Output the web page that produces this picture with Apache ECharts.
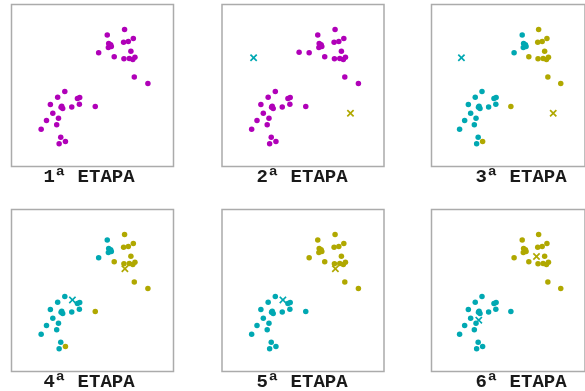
<!DOCTYPE html>
<html><head><meta charset="utf-8">
<script src="https://cdn.jsdelivr.net/npm/echarts@6/dist/echarts.min.js"></script>
<style>html,body{margin:0;padding:0;background:#fff}#c{width:585px;height:391px}</style>
</head><body><div id="c"></div>
<script>
// Data points (same for every stage), in a 0..100 box coordinate system
const pointsX = [69.8,59.1,69.2,72.1,75.2,60.0,61.2,59.8,61.6,53.8,73.7,63.4,69.4,72.7,74.9,76.2,75.8,84.2,
                 32.9,28.5,40.7,42.1,24.0,31.0,31.6,30.6,41.9,37.2,51.7,25.5,29.0,21.6,27.9,18.3,30.4,29.4,33.3];
const pointsY = [84.6,81.1,76.7,77.2,79.0,75.9,75.1,73.5,74.1,70.2,71.2,67.7,66.5,66.7,66.0,67.5,55.3,51.2,
                 46.3,42.8,42.0,42.6,38.3,37.2,35.8,36.6,38.5,36.8,37.0,32.9,29.8,28.4,25.7,23.0,18.1,14.0,15.4];
// extra point visible only in stage 2
const extraX = [47.6];
const extraY = [70.6];
// cluster assignments: 0 = cyan, 1 = olive
const assignA = [1,0,1,1,1,0,0,0,0,0,1,1,1,1,1,1,1,1,
                 0,0,0,0,0,0,0,0,0,0,1,0,0,0,0,0,0,0,1];
const assignB = [1,1,1,1,1,1,1,1,1,1,1,1,1,1,1,1,1,1,
                 0,0,0,0,0,0,0,0,0,0,0,0,0,0,0,0,0,0,0];
// centroids per stage (null = none)
const cyanCx = [null, 19.5, 19.5, 37.6, 37.6, 30.8];
const cyanCy = [null, 67.1, 67.1, 44.2, 44.2, 31.7];
const oliveCx = [null, 79.3, 79.3, 70.0, 70.0, 68.4];
const oliveCy = [null, 32.9, 32.9, 63.4, 63.4, 71.0];
const stageLabels = ['1ª ETAPA','2ª ETAPA','3ª ETAPA','4ª ETAPA','5ª ETAPA','6ª ETAPA'];
const stageAssign = [null, null, assignA, assignA, assignB, assignB];

const MAG = '#b000b8', CYA = '#00a8b2', OLI = '#b0a800';
const XPATH = 'path://M0,1.6L1.6,0L5,3.4L8.4,0L10,1.6L6.6,5L10,8.4L8.4,10L5,6.6L1.6,10L0,8.4L3.4,5Z';

const gridLefts = [11.5, 222, 431.5];
const gridTops = [4.5, 209.5];
const labelXs = [89, 302, 521];
const labelYs = [177.5, 382];

const grids = [], xAxes = [], yAxes = [], series = [], graphics = [];
for (let i = 0; i < 6; i++) {
  const col = i % 3, row = Math.floor(i / 3);
  grids.push({left: gridLefts[col], top: gridTops[row], width: 162, height: 162,
    show: true, borderColor: '#ababab', borderWidth: 1.5, backgroundColor: '#fff'});
  xAxes.push({type: 'value', gridIndex: i, min: 0, max: 100, show: false});
  yAxes.push({type: 'value', gridIndex: i, min: 0, max: 100, show: false});
  const asg = stageAssign[i];
  const mag = [], cya = [], oli = [];
  for (let k = 0; k < pointsX.length; k++) {
    const p = [pointsX[k], pointsY[k]];
    if (!asg) mag.push(p); else if (asg[k] === 0) cya.push(p); else oli.push(p);
  }
  if (i === 1) for (let k = 0; k < extraX.length; k++) mag.push([extraX[k], extraY[k]]);
  const base = {type: 'scatter', xAxisIndex: i, yAxisIndex: i, symbol: 'circle', symbolSize: 5.5, silent: true};
  if (mag.length) series.push(Object.assign({}, base, {data: mag, itemStyle: {color: MAG, opacity: 1}}));
  if (cya.length) series.push(Object.assign({}, base, {data: cya, itemStyle: {color: CYA, opacity: 1}}));
  if (oli.length) series.push(Object.assign({}, base, {data: oli, itemStyle: {color: OLI, opacity: 1}}));
  if (cyanCx[i] !== null) {
    series.push(Object.assign({}, base, {symbol: XPATH, symbolSize: 7.5, z: 5,
      data: [[cyanCx[i], cyanCy[i]]], itemStyle: {color: CYA, opacity: 1}}));
    series.push(Object.assign({}, base, {symbol: XPATH, symbolSize: 7.5, z: 5,
      data: [[oliveCx[i], oliveCy[i]]], itemStyle: {color: OLI, opacity: 1}}));
  }
  graphics.push({type: 'text', x: labelXs[col], y: labelYs[row], silent: true,
    style: {text: stageLabels[i], font: 'bold 19px "Liberation Mono", monospace', fill: '#1a1a1a',
      align: 'center', verticalAlign: 'middle', textAlign: 'center', textVerticalAlign: 'middle'}});
}
const chart = echarts.init(document.getElementById('c'), null, {renderer: 'canvas'});
chart.setOption({animation: false, backgroundColor: '#fff', grid: grids, xAxis: xAxes, yAxis: yAxes,
  series: series, graphic: graphics});
</script>
</body></html>
